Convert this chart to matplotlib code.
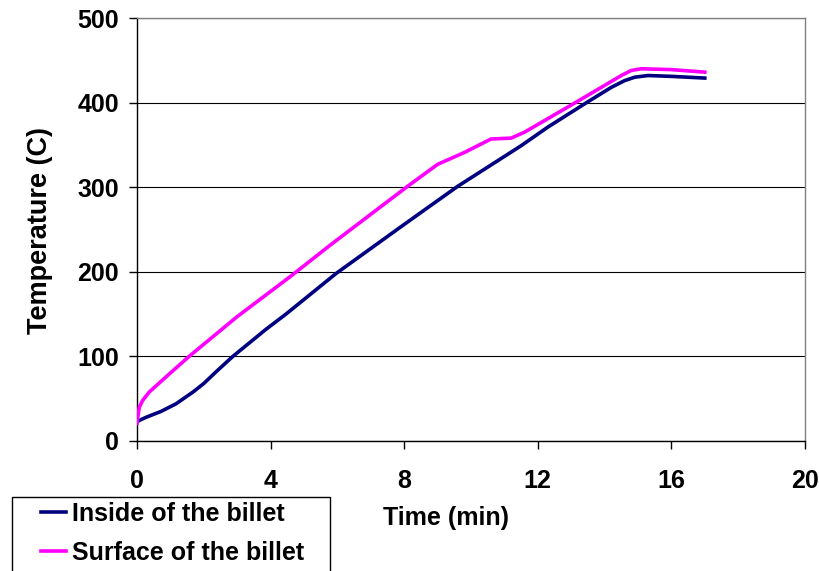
import matplotlib.pyplot as plt
from matplotlib.patches import Rectangle

plt.rcParams['font.family'] = ['Liberation Sans', 'DejaVu Sans']
plt.rcParams['font.weight'] = 'bold'

# heating curves of the billet, time in min, temperature in C
t_inside = [0, 0.05, 0.27, 0.72, 1.17, 1.68, 2.0, 2.4, 2.87, 3.86, 4.46, 5.96, 8.0, 9.6, 11.5,
            12.3, 13.5, 14.2, 14.6, 14.9, 15.3, 16.0, 17.0]
T_inside = [22, 24, 28, 35, 44, 58, 68, 83, 100, 132, 150, 198, 256, 301, 349,
            371, 401, 418, 426, 430, 432, 431, 429]

t_surface = [0, 0.03, 0.07, 0.17, 0.37, 0.96, 1.56, 2.57, 3.0, 4.61, 5.8, 8.1, 9.0, 9.8,
             10.2, 10.6, 11.2, 11.6, 12.3, 13.3, 14.5, 14.8, 15.1, 16.0, 17.0]
T_surface = [21, 30, 40, 48, 58, 79, 100, 133, 147, 195, 232, 301, 327, 341,
             349, 357, 358, 365, 381, 404, 432, 438, 440, 439, 436]

xticks = [0, 4, 8, 12, 16, 20]
yticks = [0, 100, 200, 300, 400, 500]

fig = plt.figure(figsize=(8.2, 5.71), dpi=100)
ax = fig.add_axes([137 / 820, 1 - 441 / 571, 668 / 820, 423 / 571])

ax.plot(t_inside, T_inside, color='#000080', lw=2.6, label='Inside of the billet',
        zorder=3, solid_joinstyle='round')
ax.plot(t_surface, T_surface, color='#FF00FF', lw=2.6, label='Surface of the billet',
        zorder=3, solid_joinstyle='round')

ax.set_xlim(0, 20)
ax.set_ylim(0, 500)
ax.set_xticks(xticks)
ax.set_yticks(yticks)
ax.yaxis.grid(True, color='black', lw=0.8)
ax.set_axisbelow(True)

for s in ['left', 'bottom']:
    ax.spines[s].set_color('black')
    ax.spines[s].set_linewidth(1.0)
for s in ['top', 'right']:
    ax.spines[s].set_color('#808080')
    ax.spines[s].set_linewidth(1.0)

ax.tick_params(axis='x', direction='out', length=6, width=1, pad=14, labelsize=18, colors='black')
ax.tick_params(axis='y', direction='out', length=6, width=1, pad=7, labelsize=18, colors='black')

ax.set_xlabel('Time (min)', fontsize=18, fontweight='bold')
ax.set_ylabel('Temperature (C)', fontsize=19.5, fontweight='bold')
ax.xaxis.set_label_coords((446 - 137) / 668, -0.154)
ax.yaxis.set_label_coords(-0.126, (441 - 231) / 423)

# legend box hanging off the bottom left corner
fig.patches.append(Rectangle((12 / 820, -0.05), (330 - 12) / 820, (1 - 497 / 571) + 0.05,
                             transform=fig.transFigure, fill=False, edgecolor='black', lw=1.0))
fig.legend(loc='upper left', bbox_to_anchor=(36 / 820, 1 - 497 / 571), frameon=False,
           fontsize=18, handlelength=1.0, handletextpad=0.25, labelspacing=0.58,
           borderpad=0.2, borderaxespad=0)

fig.savefig('out.png', dpi=100)
